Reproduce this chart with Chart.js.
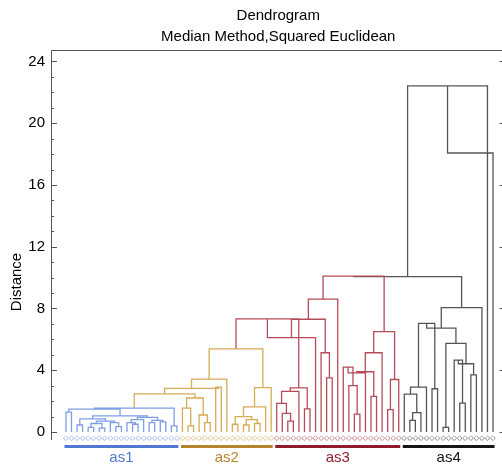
<!DOCTYPE html>
<html lang="en">
<head>
<meta charset="UTF-8">
<title>Dendrogram</title>
<script src="https://cdn.jsdelivr.net/npm/chart.js"></script>
<style>
  html, body { margin: 0; padding: 0; overflow: hidden; background: #fff; }
</style>
</head>
<body>
<canvas id="dendro" width="508" height="473"></canvas>
<script>
// groups of samples, in leaf order
const groupNames = ['as1', 'as2', 'as3', 'as4'];
const groupSizes = [21, 17, 23, 17];
const lineColors = ['#7f9de4', '#d6ab56', '#b54b59', '#555555'];
const barColors = ['#5078d2', '#b7842e', '#8f1c2e', '#161616'];
const yTicks = [0, 4, 8, 12, 16, 20, 24];

// merges: [distance, left, right]; a plain number is a sample (leaf position)
const as1Tree = [1.54,
  [1.48, [1.28, 0, 1],
    [1.04,
      [0.85, [0.45, 2, 3], [0.7, [0.55, [0.3, 4, 5], [0.25, 6, 7]], [0.6, 8, [0.35, 9, 10]]]],
      [0.95, [0.8, [0.6, 11, [0.5, 12, 13]], 14], [0.75, [0.6, 15, 16], [0.65, 17, 18]]]]],
  [0.4, 19, 20]];
const as2aTree = [2.2, [1.54, 21, [0.4, 22, 23]], [1.1, 24, [0.6, 25, 26]]];
const as2bTree = [2.87, [1.63, [1.0, [0.5, 30, 31], [0.8, [0.45, 32, 33], [0.55, 34, 35]]], 36], 37];
const as12Tree = [5.38, [3.42, [2.83, [2.47, as1Tree, as2aTree], [2.9, 27, 28]], 29], as2bTree];

const as3qTree = [2.85, [2.63, [1.85, 38, [1.2, 39, [0.7, 40, 41]]], 42], [1.5, 43, 44]];
const as3sTree = [5.13, 46, [3.5, 47, 48]];
const as3rTree = [6.5,
  [5.13, [3.9, [3.83, [4.2, 50, [3.0, 51, [1.15, 52, 53]]], 54], [2.3, 55, 56]], 57],
  [3.4, [1.45, 58, 59], 60]];
const as123Tree = [10.1, [8.61, [7.3, [6.11, [7.32, as12Tree, as3qTree], 45], as3sTree], 49], as3rTree];

const as4Tree = [8.05,
  [6.72,
    [7.04, [2.9, [2.45, 61, [1.25, [0.75, 62, 63], 64]], 65], [2.8, 66, 67]],
    [5.74, [0.3, 68, 69], [4.42, [4.65, 70, [1.87, 71, 72]], [3.7, 73, 74]]]],
  75];
const rootTree = [18.07, [22.41, [10.06, as123Tree, as4Tree], 76], 77];

// which group a leaf falls in
const groupStart = groupSizes.map((s, i) => groupSizes.slice(0, i).reduce((a, b) => a + b, 0));
function groupOf(leaf) {
  let g = 0;
  groupStart.forEach((s, i) => { if (leaf >= s) g = i; });
  return g;
}

// build the U-shaped links, one line dataset per colour
const links = groupNames.map(() => []);
function walk(node) {
  if (typeof node === 'number') return { x: node, h: 0, g: groupOf(node) };
  const a = walk(node[1]);
  const b = walk(node[2]);
  const g = Math.max(a.g, b.g);
  links[g].push({ x: a.x, y: a.h }, { x: a.x, y: node[0] }, { x: b.x, y: node[0] }, { x: b.x, y: b.h }, { x: b.x, y: null });
  return { x: (a.x + b.x) / 2, h: node[0], g };
}
walk(rootTree);

const nLeaves = groupSizes.reduce((a, b) => a + b, 0);
const font = "'Liberation Sans', Arial, sans-serif";

const decor = {
  id: 'decor',
  afterDraw(chart) {
    const { ctx, chartArea: a, scales: { x, y } } = chart;
    ctx.save();
    // frame and inward ticks
    ctx.strokeStyle = '#555';
    ctx.lineWidth = 1;
    ctx.beginPath();
    ctx.moveTo(a.left + 0.5, a.bottom);
    ctx.lineTo(a.left + 0.5, a.top + 0.5);
    ctx.lineTo(a.right - 0.5, a.top + 0.5);
    ctx.lineTo(a.right - 0.5, a.bottom);
    for (let v = 0; v <= 24; v++) {
      const py = Math.round(y.getPixelForValue(v)) + 0.5;
      const len = v % 4 === 0 ? 6 : 3;
      ctx.moveTo(a.left, py); ctx.lineTo(a.left + len, py);
      ctx.moveTo(a.right, py); ctx.lineTo(a.right - len, py);
    }
    ctx.stroke();

    // leaf marks
    ctx.font = '7px DejaVu Sans';
    ctx.textAlign = 'center';
    ctx.textBaseline = 'middle';
    for (let i = 0; i < nLeaves; i++) {
      ctx.fillStyle = lineColors[groupOf(i)];
      ctx.fillText('\u25C7', x.getPixelForValue(i), 438);
    }

    // group bars and names
    ctx.font = '15px ' + font;
    ctx.textBaseline = 'alphabetic';
    groupNames.forEach((name, g) => {
      const x0 = x.getPixelForValue(groupStart[g]) - 1.5;
      const x1 = x.getPixelForValue(groupStart[g] + groupSizes[g] - 1) + 1.5;
      ctx.fillStyle = barColors[g];
      ctx.fillRect(x0, 445, x1 - x0, 3);
      ctx.fillText(name, (x0 + x1) / 2, 462);
    });

    // axis title
    ctx.fillStyle = '#000';
    ctx.font = '15px ' + font;
    ctx.translate(17, 282);
    ctx.rotate(-Math.PI / 2);
    ctx.textBaseline = 'middle';
    ctx.fillText('Distance', 0, 0);
    ctx.restore();
  }
};

new Chart(document.getElementById('dendro'), {
  type: 'scatter',
  data: {
    datasets: links.map((pts, g) => ({
      label: groupNames[g],
      data: pts,
      showLine: true,
      spanGaps: false,
      borderColor: lineColors[g],
      borderWidth: 1.3,
      pointRadius: 0,
      tension: 0
    }))
  },
  options: {
    responsive: false,
    animation: false,
    devicePixelRatio: 1,
    layout: { padding: { left: 0, right: 2.5, top: 0, bottom: 33 } },
    plugins: {
      legend: { display: false },
      tooltip: { enabled: false },
      title: {
        display: true,
        text: ['Dendrogram', 'Median Method,Squared Euclidean'],
        color: '#000',
        fullSize: false,
        font: { family: font, size: 15, weight: 'normal', lineHeight: 1.4 },
        padding: { top: 5, bottom: 3 }
      }
    },
    scales: {
      x: { type: 'linear', display: false, min: -2.7, max: 79.25 },
      y: {
        type: 'linear',
        min: -0.52,
        max: 24.74,
        afterFit: s => { s.width = 51; },
        afterBuildTicks: s => { s.ticks = yTicks.map(v => ({ value: v })); },
        grid: { display: false, drawTicks: false },
        border: { display: false },
        ticks: { color: '#000', padding: 6, font: { family: font, size: 15 } }
      }
    }
  },
  plugins: [decor]
});
</script>
</body>
</html>
